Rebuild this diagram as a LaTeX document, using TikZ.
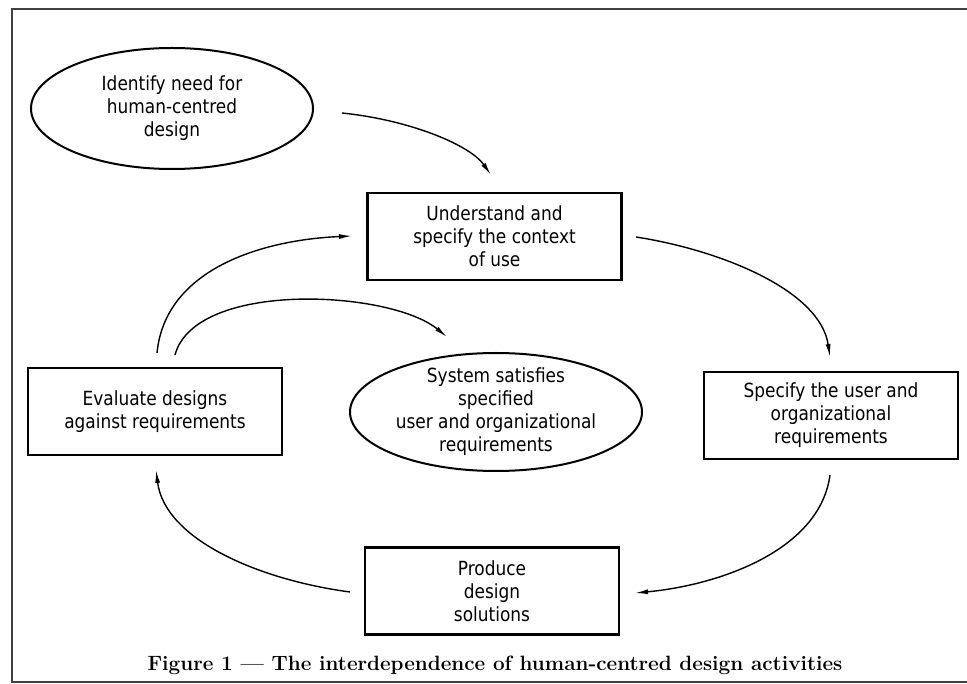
\documentclass[tikz,border=0pt]{standalone}
\usepackage{fontspec}
\usetikzlibrary{arrows.meta,shapes.geometric,calc}
\newfontfamily\techfont[FakeStretch=0.87]{DejaVu Sans}
\begin{document}
\begin{tikzpicture}[x=1pt,y=-1pt,
  txt/.style={align=center,inner sep=0pt,font=\techfont\fontsize{19.5}{23}\selectfont},
  box/.style={txt,draw,line width=2.2pt,minimum width=254pt,minimum height=87pt},
  oval/.style={draw,ellipse,line width=2pt,inner sep=0pt},
  arr/.style={line width=1.4pt,-{Latex[length=13pt,width=5pt]}},
  frame/.style={draw=black!75,line width=2pt}]
\useasboundingbox (0,0) rectangle (967,684);
\clip (0,0) rectangle (967,684);
% frame
\draw[frame] (990,9) -- (12,9) -- (12,682) -- (990,682);
% nodes
\node[oval,minimum width=282pt,minimum height=121pt] (e1) at (172,108.5) {};
\node[txt] (e1t) at (e1) {Identify need for\\human-centred\\design};
\node[box] (u) at (494.5,236.5) {Understand and\\specify the context\\of use};
\node[box] (sp) at (831,415.5) {Specify the user and\\organizational\\requirements};
\node[box] (p) at (492,591) {Produce\\design\\solutions};
\node[box] (ev) at (155,411.5) {Evaluate designs\\against requirements};
\node[oval,minimum width=292pt,minimum height=118pt] (s) at (496,412) {};
\node[txt] (st) at (s) {System satisfies\\specified\\user and organizational\\requirements};
\node (cap) at (495,665) {\fontsize{20.7}{22}\selectfont\bfseries Figure 1 \textemdash{} The interdependence of human-centred design activities};
% connector ends
\coordinate (a1s) at (342,113);  \coordinate (a1e) at (491,175);
\coordinate (a2s) at (636,237);  \coordinate (a2e) at (830,357);
\coordinate (a3s) at (830,475);  \coordinate (a3e) at (635,593);
\coordinate (a4s) at (350,592);  \coordinate (a4e) at (156,470);
\coordinate (a5s) at (157,353);  \coordinate (a5e) at (352,236);
\coordinate (a6s) at (175,355);  \coordinate (a6e) at (447,337);
% connectors
\draw[arr] (a1s) .. controls (410,120) and (470,145) .. (a1e);
\draw[arr] (a2s) .. controls (720,250) and (820,290) .. (a2e);
\draw[arr] (a3s) .. controls (820,550) and (720,585) .. (a3e);
\draw[arr] (a4s) .. controls (260,580) and (165,540) .. (a4e);
\draw[arr] (a5s) .. controls (165,270) and (260,240) .. (a5e);
\draw[arr] (a6s) .. controls (195,280) and (390,290) .. (a6e);
\end{tikzpicture}
\end{document}
